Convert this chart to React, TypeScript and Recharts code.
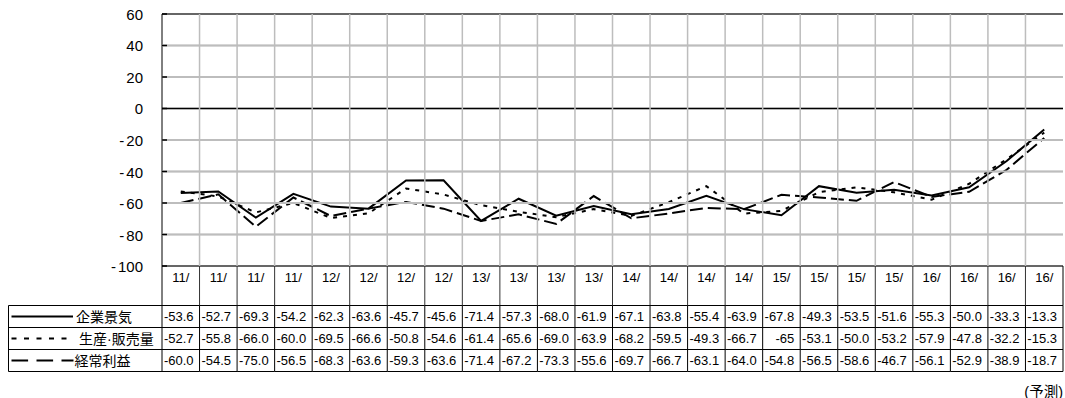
import { LineChart, Line, XAxis, YAxis, CartesianGrid, ReferenceLine } from "recharts";

// quarter headers (year prefix only)
const years = [
  "11/", "11/", "11/", "11/", "12/", "12/", "12/", "12/",
  "13/", "13/", "13/", "13/", "14/", "14/", "14/", "14/",
  "15/", "15/", "15/", "15/", "16/", "16/", "16/", "16/",
];

// DI values as printed in the table
const businessText = [
  "-53.6", "-52.7", "-69.3", "-54.2", "-62.3", "-63.6", "-45.7", "-45.6",
  "-71.4", "-57.3", "-68.0", "-61.9", "-67.1", "-63.8", "-55.4", "-63.9",
  "-67.8", "-49.3", "-53.5", "-51.6", "-55.3", "-50.0", "-33.3", "-13.3",
];
const outputText = [
  "-52.7", "-55.8", "-66.0", "-60.0", "-69.5", "-66.6", "-50.8", "-54.6",
  "-61.4", "-65.6", "-69.0", "-63.9", "-68.2", "-59.5", "-49.3", "-66.7",
  "-65", "-53.1", "-50.0", "-53.2", "-57.9", "-47.8", "-32.2", "-15.3",
];
const profitText = [
  "-60.0", "-54.5", "-75.0", "-56.5", "-68.3", "-63.6", "-59.3", "-63.6",
  "-71.4", "-67.2", "-73.3", "-55.6", "-69.7", "-66.7", "-63.1", "-64.0",
  "-54.8", "-56.5", "-58.6", "-46.7", "-56.1", "-52.9", "-38.9", "-18.7",
];

const yTicks = [-100, -80, -60, -40, -20, 0, 20, 40, 60];
const Y_MIN = -100;
const Y_MAX = 60;

const W = 1065;
const H = 398;
const MARGIN = { top: 14, right: 2, left: 100, bottom: 14 };
const Y_W = 62;
const X_H = 118;
const PLOT_W = W - MARGIN.left - MARGIN.right - Y_W;
const PLOT_H = H - MARGIN.top - MARGIN.bottom - X_H;
const COL = PLOT_W / years.length;
const ROW = 22;
const GRID = "#bdbdbd";
const FONT = '"Liberation Sans", Arial, "Noto Sans CJK JP", sans-serif';

const series = [
  { key: "business", name: "企業景気", text: businessText, dash: undefined, legendDash: undefined, legendEnd: 73, labelX: 76 },
  { key: "output", name: "生産·販売量", text: outputText, dash: "4 6", legendDash: "5 7.5", legendEnd: 67, labelX: 79 },
  { key: "profit", name: "経常利益", text: profitText, dash: "13 5", legendDash: "16.6 8.4", legendEnd: 73.5, labelX: 74.5 },
];

const rows = years.map((year, i) => ({
  slot: i,
  year,
  business: Number(businessText[i]),
  output: Number(outputText[i]),
  profit: Number(profitText[i]),
}));

const YTick = (props: any) => {
  const { x, y, payload } = props;
  const v = payload.value as number;
  return (
    <text x={x - 19} y={y} textAnchor="end" dominantBaseline="central" fontSize={15} fill="#000" fontFamily={FONT}>
      {v < 0 ? (
        <>
          <tspan>-</tspan>
          <tspan dx={2}>{Math.abs(v)}</tspan>
        </>
      ) : (
        v
      )}
    </text>
  );
};

// one column of the data table under the plot, plus the legend column on the first one
const TableColumn = (props: any) => {
  const { x, y, payload } = props;
  const i: number = props.index ?? payload.index ?? payload.value;
  const left = x - COL / 2;
  const right = x + COL / 2;
  const top = y + 39.5;
  const last = i === years.length - 1;
  return (
    <g fontFamily={FONT}>
      {/* quarter boundary through the plot */}
      {i > 0 && <rect x={left - 0.75} y={y - PLOT_H} width={1.5} height={PLOT_H} fill={GRID} />}
      {/* horizontal grid and inward tick marks, spanning the plot from the first column */}
      {i === 0 &&
        yTicks.map((t) => {
          const gy = y - (PLOT_H * (t - Y_MIN)) / (Y_MAX - Y_MIN);
          const inner = t !== 0 && t !== Y_MAX && t !== Y_MIN;
          return (
            <g key={t}>
              {inner && <rect x={left} y={gy - 1} width={PLOT_W} height={2} fill={GRID} />}
              <rect x={left} y={gy - 0.75} width={5} height={1.5} fill="#000" />
            </g>
          );
        })}
      <line x1={left} x2={left} y1={y} y2={top} stroke={i === 0 ? "#000" : "#333"} />
      {last && <line x1={right} x2={right} y1={y} y2={top} stroke="#000" />}
      <text x={x} y={y + 11.5} textAnchor="middle" dominantBaseline="central" fontSize={13} fill="#000">
        {years[i]}
      </text>
      <line x1={left} x2={left} y1={top} y2={top + ROW * 3} stroke="#000" />
      {last && <line x1={right} x2={right} y1={top} y2={top + ROW * 3} stroke="#000" />}
      {[0, 1, 2, 3].map((r) => (
        <line key={r} x1={left} x2={right} y1={top + r * ROW} y2={top + r * ROW} stroke="#000" />
      ))}
      {series.map((s, r) => (
        <text
          key={s.key}
          x={right - 6}
          y={top + r * ROW + ROW / 2}
          textAnchor="end"
          dominantBaseline="central"
          fontSize={13}
          fill="#000"
        >
          {s.text[i]}
        </text>
      ))}
      {i === 0 && (
        <g>
          <line x1={8.5} x2={8.5} y1={top} y2={top + ROW * 3} stroke="#000" />
          {[0, 1, 2, 3].map((r) => (
            <line key={r} x1={8.5} x2={left} y1={top + r * ROW} y2={top + r * ROW} stroke="#000" />
          ))}
          {series.map((s, r) => {
            const cy = top + r * ROW + ROW / 2;
            return (
              <g key={s.key}>
                <line x1={11.5} x2={s.legendEnd} y1={cy} y2={cy} stroke="#000" strokeWidth={2} strokeDasharray={s.legendDash} />
                <text x={s.labelX} y={cy} dominantBaseline="central" fontSize={14} fill="#000">
                  {s.name}
                </text>
              </g>
            );
          })}
        </g>
      )}
      {last && (
        <text x={right} y={top + ROW * 3 + 20} textAnchor="end" dominantBaseline="central" fontSize={14.5} fill="#000">
          (予測)
        </text>
      )}
    </g>
  );
};

export default function App() {
  return (
    <div style={{ position: "absolute", left: 0, top: 0, width: W, height: H, background: "#fff" }}>
      <LineChart width={W} height={H} data={rows} margin={MARGIN}>
        <CartesianGrid yAxisId="left" vertical={false} stroke={GRID} strokeWidth={1.5} />
        <XAxis
          dataKey="slot"
          type="category"
          scale="band"
          interval={0}
          height={X_H}
          tickSize={0}
          tickMargin={0}
          tickLine={false}
          axisLine={{ stroke: "#000" }}
          tick={<TableColumn />}
        />
        <YAxis
          yAxisId="left"
          width={Y_W}
          domain={[Y_MIN, Y_MAX]}
          ticks={yTicks}
          interval={0}
          tickSize={0}
          tickMargin={0}
          tickLine={false}
          axisLine={{ stroke: "#000" }}
          tick={<YTick />}
        />
        <YAxis
          yAxisId="frame"
          orientation="right"
          width={0}
          domain={[Y_MIN, Y_MAX]}
          tick={false}
          tickLine={false}
          axisLine={{ stroke: "#000" }}
        />
        <ReferenceLine yAxisId="left" y={Y_MAX} stroke="#000" strokeWidth={1.2} />
        <ReferenceLine yAxisId="left" y={0} stroke="#000" strokeWidth={1.5} />
        {series.map((s) => (
          <Line
            key={s.key}
            yAxisId="left"
            dataKey={s.key}
            name={s.name}
            type="linear"
            stroke="#000"
            strokeWidth={2}
            strokeDasharray={s.dash}
            dot={false}
            activeDot={false}
            isAnimationActive={false}
          />
        ))}
      </LineChart>
    </div>
  );
}
